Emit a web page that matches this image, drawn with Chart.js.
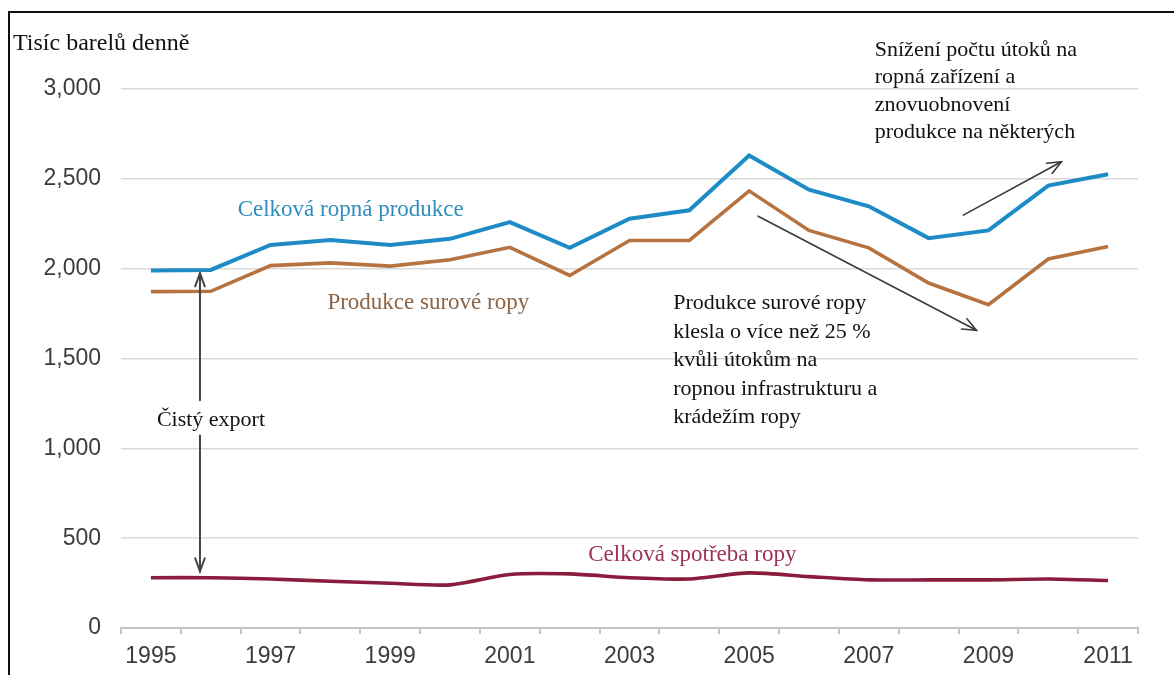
<!DOCTYPE html>
<html>
<head>
<meta charset="utf-8">
<script src="https://cdn.jsdelivr.net/npm/chart.js@4/dist/chart.umd.min.js"></script>
<style>
  html, body { margin: 0; padding: 0; background: #ffffff; overflow: hidden; }
  #wrap { position: relative; width: 1174px; height: 675px; overflow: hidden; }
  #frame { position: absolute; left: 8px; top: 11px; width: 1400px; height: 900px; border: 2px solid #111; pointer-events: none; }
  canvas { display: block; }
</style>
</head>
<body>
<div id="wrap">
  <canvas id="c" width="1174" height="675"></canvas>
  <div id="frame"></div>
</div>
<script>
// ---- data (thousand barrels per day) ----
const years = ['1995','1996','1997','1998','1999','2000','2001','2002','2003','2004','2005','2006','2007','2008','2009','2010','2011'];
const totalOilProduction = [1990, 1993, 2132, 2160, 2132, 2166, 2259, 2116, 2278, 2325, 2630, 2440, 2347, 2170, 2213, 2462, 2526];
const crudeOilProduction = [1872, 1874, 2017, 2032, 2014, 2050, 2119, 1962, 2157, 2157, 2433, 2213, 2116, 1920, 1800, 2054, 2124];
const totalOilConsumption = [280, 280, 273, 260, 249, 240, 298, 301, 280, 273, 307, 286, 268, 268, 268, 273, 264];
const yTickValues = [0, 500, 1000, 1500, 2000, 2500, 3000];
const xLabelYears = ['1995','1997','1999','2001','2003','2005','2007','2009','2011'];

const yAxisTitle = 'Tisíc barelů denně';
const seriesNames = ['Celková ropná produkce', 'Produkce surové ropy', 'Celková spotřeba ropy'];
const netExportLabel = 'Čistý export';
const noteRecovery = ['Snížení počtu útoků na', 'ropná zařízení a', 'znovuobnovení', 'produkce na některých'];
const noteDecline = ['Produkce surové ropy', 'klesla o více než 25 %', 'kvůli útokům na', 'ropnou infrastrukturu a', 'krádežím ropy'];

// ---- annotation placement (in data space: x = category index, y = value) ----
const SERIF = '"Liberation Serif", "DejaVu Serif", serif';
const SANS = '"Liberation Sans", Arial, sans-serif';
const textAnnotations = [
  { lines: [seriesNames[0]], x: 1.45, y: 2326, color: '#2f8dbf', size: 23 },
  { lines: [seriesNames[1]], x: 2.95, y: 1808, color: '#8c6446', size: 23 },
  { lines: [seriesNames[2]], x: 7.31, y: 404, color: '#9b3358', size: 23 },
  { lines: [netExportLabel], x: 0.10, y: 1156, color: '#111111', size: 22 },
  { lines: noteRecovery, x: 12.10, y: 3217, color: '#111111', size: 22, step: 27.5 },
  { lines: noteDecline, x: 8.73, y: 1808, color: '#111111', size: 22, step: 28.6 }
];
const arrowAnnotations = [
  { from: [13.58, 2298], to: [15.22, 2595] },
  { from: [10.15, 2292], to: [13.80, 1657] }
];
const netExportArrow = { x: 0.82, top: 1975, bottom: 315, gapTop: 1267, gapBottom: 1072 };

function drawHead(ctx, x1, y1, x2, y2, len, ang) {
  const a = Math.atan2(y2 - y1, x2 - x1);
  ctx.beginPath();
  ctx.moveTo(x2 - len * Math.cos(a - ang), y2 - len * Math.sin(a - ang));
  ctx.lineTo(x2, y2);
  ctx.lineTo(x2 - len * Math.cos(a + ang), y2 - len * Math.sin(a + ang));
  ctx.stroke();
}

const annotationPlugin = {
  id: 'annotations',
  afterDraw(chart) {
    const ctx = chart.ctx;
    const xs = chart.scales.x, ys = chart.scales.y;
    ctx.save();
    // y axis title at top-left
    ctx.fillStyle = '#111111';
    ctx.font = '24px ' + SERIF;
    ctx.textAlign = 'left';
    ctx.textBaseline = 'middle';
    ctx.fillText(yAxisTitle, 13, 44);

    // texts
    textAnnotations.forEach(t => {
      ctx.font = t.size + 'px ' + SERIF;
      ctx.fillStyle = t.color;
      ctx.textAlign = 'left';
      ctx.textBaseline = 'middle';
      const px = xs.getPixelForValue(t.x);
      const py = ys.getPixelForValue(t.y);
      t.lines.forEach((ln, i) => ctx.fillText(ln, px, py + i * (t.step || 0)));
    });

    // diagonal arrows
    ctx.strokeStyle = '#3a3a3a';
    ctx.lineWidth = 1.6;
    ctx.lineCap = 'round';
    arrowAnnotations.forEach(a => {
      const x1 = xs.getPixelForValue(a.from[0]), y1 = ys.getPixelForValue(a.from[1]);
      const x2 = xs.getPixelForValue(a.to[0]), y2 = ys.getPixelForValue(a.to[1]);
      ctx.beginPath(); ctx.moveTo(x1, y1); ctx.lineTo(x2, y2); ctx.stroke();
      drawHead(ctx, x1, y1, x2, y2, 15, 0.4);
    });

    // net export double arrow
    const ax = xs.getPixelForValue(netExportArrow.x);
    const yt = ys.getPixelForValue(netExportArrow.top);
    const yb = ys.getPixelForValue(netExportArrow.bottom);
    const g1 = ys.getPixelForValue(netExportArrow.gapTop);
    const g2 = ys.getPixelForValue(netExportArrow.gapBottom);
    ctx.strokeStyle = '#444444';
    ctx.lineWidth = 2;
    ctx.beginPath(); ctx.moveTo(ax, yt); ctx.lineTo(ax, g1); ctx.stroke();
    ctx.beginPath(); ctx.moveTo(ax, g2); ctx.lineTo(ax, yb); ctx.stroke();
    drawHead(ctx, ax, g1, ax, yt, 14, 0.35);
    drawHead(ctx, ax, g2, ax, yb, 14, 0.35);
    ctx.restore();
  }
};

new Chart(document.getElementById('c'), {
  type: 'line',
  data: {
    labels: years,
    datasets: [
      { label: seriesNames[0], data: totalOilProduction, borderColor: '#1e8bc6', borderWidth: 4, pointRadius: 0, tension: 0, fill: false },
      { label: seriesNames[1], data: crudeOilProduction, borderColor: '#b6733f', borderWidth: 3.6, pointRadius: 0, tension: 0, fill: false },
      { label: seriesNames[2], data: totalOilConsumption, borderColor: '#8a1c3c', borderWidth: 3.6, pointRadius: 0, tension: 0.25, fill: false }
    ]
  },
  options: {
    responsive: false,
    maintainAspectRatio: false,
    animation: false,
    devicePixelRatio: 1,
    layout: { padding: { left: 0, right: 36, top: 89, bottom: 0 } },
    plugins: { legend: { display: false }, tooltip: { enabled: false }, title: { display: false } },
    scales: {
      x: {
        type: 'category',
        offset: true,
        grid: { offset: true, drawOnChartArea: false, drawTicks: true, tickLength: 6, color: '#c4c4c4', lineWidth: 2 },
        border: { display: true, color: '#c4c4c4', width: 2 },
        ticks: {
          autoSkip: false, maxRotation: 0, padding: 9,
          color: '#3c3c3c', font: { family: SANS, size: 23 },
          callback: function (v, i) { const l = years[i]; return xLabelYears.includes(l) ? l : ''; }
        },
        afterFit: s => { s.height = 47; }
      },
      y: {
        min: 0, max: 3000,
        afterBuildTicks: s => { s.ticks = yTickValues.map(v => ({ value: v })); },
        grid: { color: '#dadada', lineWidth: 1.5, drawTicks: false },
        border: { display: false },
        ticks: {
          padding: 20, color: '#3c3c3c', font: { family: SANS, size: 23 },
          callback: v => Number(v).toLocaleString('en-US')
        },
        afterFit: s => { s.width = 121; }
      }
    }
  },
  plugins: [annotationPlugin]
});
</script>
</body>
</html>
